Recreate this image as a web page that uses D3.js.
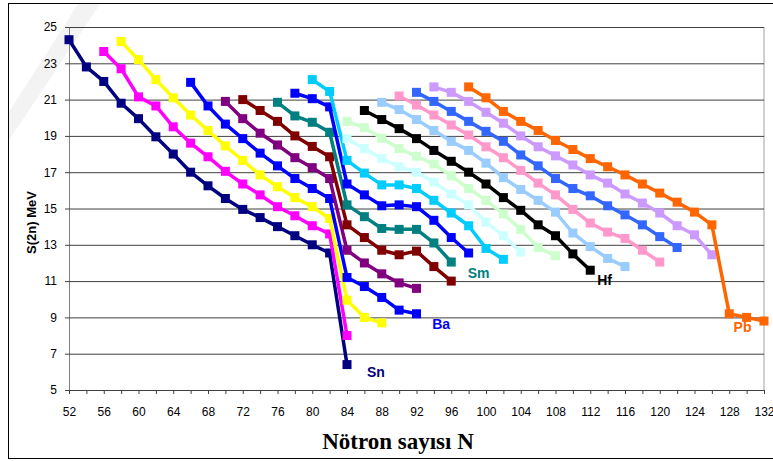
<!DOCTYPE html>
<html>
<head>
<meta charset="utf-8">
<script src="https://cdn.jsdelivr.net/npm/d3@7"></script>
<style>
  body { margin: 0; background: #fff; }
  svg { display: block; }
</style>
</head>
<body>
<div id="chart"></div>
<script>
// S(2n) values, one array per element, starting at the first neutron number in startN (step 2)
const elements = ["Sn", "Te", "Xe", "Ba", "Ce", "Nd", "Sm", "Gd", "Dy", "Er", "Yb", "Hf", "W", "Os", "Pt", "Hg", "Pb"];
const startN   = [52, 56, 58, 66, 70, 72, 76, 78, 80, 84, 84, 86, 88, 90, 92, 94, 98];
const colors   = ["#000080", "#ff00ff", "#ffff00", "#0000ff", "#800080", "#800000", "#008080", "#0000ff",
                  "#00ccff", "#ccffff", "#ccffcc", "#000000", "#99ccff", "#ff99cc", "#3366ff", "#cc99ff", "#ff6600"];

const Sn = [24.3, 22.8, 22.0, 20.8, 19.95, 18.95, 18.0, 17.0, 16.25, 15.55, 14.95, 14.5, 14.0, 13.5, 13.0, 12.55, 6.4];
const Te = [23.65, 22.7, 21.15, 20.65, 19.5, 18.6, 17.85, 17.05, 16.35, 15.75, 15.1, 14.6, 14.05, 13.6, 8.0];
const Xe = [24.2, 23.2, 22.1, 21.1, 20.15, 19.3, 18.45, 17.65, 16.85, 16.2, 15.6, 15.1, 14.45, 9.95, 9.0, 8.7];
const Ba = [21.95, 20.65, 19.65, 18.85, 18.05, 17.35, 16.65, 16.1, 15.55, 11.2, 10.7, 10.1, 9.4, 9.2];
const Ce = [20.9, 19.95, 19.15, 18.5, 17.8, 17.25, 16.65, 12.7, 12.0, 11.4, 10.9, 10.6];
const Nd = [21.0, 20.4, 19.8, 19.0, 18.42, 17.85, 14.1, 13.4, 12.7, 12.45, 12.65, 11.8, 11.0];
const Sm = [20.85, 20.1, 19.75, 19.2, 15.2, 14.55, 13.9, 13.85, 13.85, 13.1, 12.05];
const Gd = [21.35, 21.05, 20.6, 16.35, 15.75, 15.15, 15.2, 15.1, 14.35, 13.4, 12.55];
const Dy = [22.1, 21.45, 17.65, 16.95, 16.3, 16.3, 16.1, 15.45, 14.75, 14.05, 12.8, 12.2];
const Er = [18.85, 18.3, 17.75, 17.3, 17.0, 16.45, 15.8, 15.2, 14.25, 13.5, 12.6];
const Yb = [19.8, 19.45, 18.87, 18.3, 17.88, 17.45, 16.8, 16.1, 15.45, 14.7, 13.85, 12.85, 12.4];
const Hf = [20.4, 19.9, 19.4, 18.85, 18.2, 17.6, 17.0, 16.35, 15.6, 14.9, 14.1, 13.5, 12.5, 11.6];
const W  = [20.85, 20.45, 19.9, 19.3, 18.7, 18.2, 17.5, 16.7, 16.05, 15.45, 14.8, 13.65, 12.9, 12.25, 11.8];
const Os = [21.2, 20.7, 20.15, 19.6, 19.05, 18.4, 17.8, 17.1, 16.4, 15.75, 14.95, 14.2, 13.7, 13.35, 12.7, 12.05];
const Pt = [21.4, 20.9, 20.35, 19.8, 19.25, 18.7, 17.95, 17.35, 16.65, 16.1, 15.7, 15.15, 14.65, 14.1, 13.45, 12.85];
const Hg = [21.7, 21.4, 20.9, 20.3, 19.7, 19.0, 18.4, 17.9, 17.4, 16.85, 16.4, 15.8, 15.3, 14.75, 14.05, 13.55, 12.45];
const Pb = [21.7, 21.1, 20.35, 19.8, 19.3, 18.75, 18.25, 17.75, 17.3, 16.85, 16.35, 15.85, 15.35, 14.8, 14.1, 9.2, 9.0, 8.8];

const s2nValues = [Sn, Te, Xe, Ba, Ce, Nd, Sm, Gd, Dy, Er, Yb, Hf, W, Os, Pt, Hg, Pb];

// axis ticks
const xTicks = d3.range(52, 133, 2);
const yTicks = d3.range(5, 26, 2);

// element labels on the chart (in data units: neutron number, MeV)
const labelNames = ["Sn", "Ba", "Sm", "Hf", "Pb"];
const labelN     = [86.3, 93.8, 97.9, 112.8, 128.5];
const labelS     = [5.72, 8.36, 11.17, 10.79, 8.2];

const series = elements.map((el, i) => ({
    name: el,
    color: colors[i],
    points: s2nValues[i].map((s, j) => ({ n: startN[i] + 2 * j, s: s }))
}));

const W_ = 773, H_ = 461;
const svg = d3.select("#chart").append("svg")
    .attr("width", W_)
    .attr("height", H_);

// outer chart frame
svg.append("rect")
    .attr("x", 8.5).attr("y", 3.5)
    .attr("width", W_).attr("height", 455)
    .attr("fill", "#fff")
    .attr("stroke", "#000")
    .attr("stroke-width", 1);

// faint background stripe (slide watermark)
svg.append("path")
    .attr("d", "M9,140 L9,112 L78,4 L100,4 Z")
    .attr("fill", "#f3f3f3");

const x = d3.scaleLinear().domain([52, 132]).range([69, 764]);
const y = d3.scaleLinear().domain([5, 25]).range([390, 27]);

// right edge of plot area
svg.append("line")
    .attr("x1", 764).attr("x2", 764)
    .attr("y1", y(25)).attr("y2", y(5))
    .attr("stroke", "#a0a0a0");

// y axis with gridlines
const yAxis = svg.append("g")
    .attr("transform", `translate(${x(52)},0)`)
    .call(d3.axisLeft(y).tickValues(yTicks).tickSize(-(x(132) - x(52))).tickSizeOuter(0).tickPadding(12));
yAxis.select(".domain").attr("stroke", "#808080");
yAxis.selectAll(".tick line")
    .attr("x1", -4)
    .attr("stroke", "#404040");
yAxis.selectAll(".tick text")
    .attr("font-family", "Arial, 'Liberation Sans', sans-serif")
    .attr("font-size", 12)
    .attr("fill", "#000");

// x axis
const xAxis = svg.append("g")
    .attr("transform", `translate(0,${y(5)})`)
    .call(d3.axisBottom(x).tickValues(xTicks).tickSize(4).tickSizeOuter(0).tickPadding(13)
        .tickFormat(d => d % 4 === 0 ? d : ""));
xAxis.select(".domain").attr("stroke", "#404040");
xAxis.selectAll(".tick line").attr("stroke", "#404040");
xAxis.selectAll(".tick text")
    .attr("font-family", "Arial, 'Liberation Sans', sans-serif")
    .attr("font-size", 12)
    .attr("fill", "#000");

// series lines and square markers
const line = d3.line().x(d => x(d.n)).y(d => y(d.s));

const g = svg.append("g");
series.forEach(sr => {
    g.append("path")
        .datum(sr.points)
        .attr("d", line)
        .attr("fill", "none")
        .attr("stroke", sr.color)
        .attr("stroke-width", 3.5)
        .attr("stroke-linejoin", "round");
    g.selectAll(null)
        .data(sr.points)
        .enter()
        .append("rect")
        .attr("x", d => x(d.n) - 4.5)
        .attr("y", d => y(d.s) - 4.5)
        .attr("width", 9)
        .attr("height", 9)
        .attr("fill", sr.color);
});

// element name labels
labelNames.forEach((name, i) => {
    svg.append("text")
        .attr("x", x(labelN[i]))
        .attr("y", y(labelS[i]))
        .attr("font-family", "Arial, 'Liberation Sans', sans-serif")
        .attr("font-weight", "bold")
        .attr("font-size", 14)
        .attr("fill", colors[elements.indexOf(name)])
        .text(name);
});

// axis titles
svg.append("text")
    .attr("transform", `translate(36,${(y(5) + y(25)) / 2 + 14}) rotate(-90)`)
    .attr("text-anchor", "middle")
    .attr("font-family", "Arial, 'Liberation Sans', sans-serif")
    .attr("font-weight", "bold")
    .attr("font-size", 13)
    .text("S(2n) MeV");

svg.append("text")
    .attr("x", 398)
    .attr("y", 449)
    .attr("text-anchor", "middle")
    .attr("font-family", "'Times New Roman', 'Liberation Serif', serif")
    .attr("font-weight", "bold")
    .attr("font-size", 23)
    .text("Nötron sayısı N");
</script>
</body>
</html>
